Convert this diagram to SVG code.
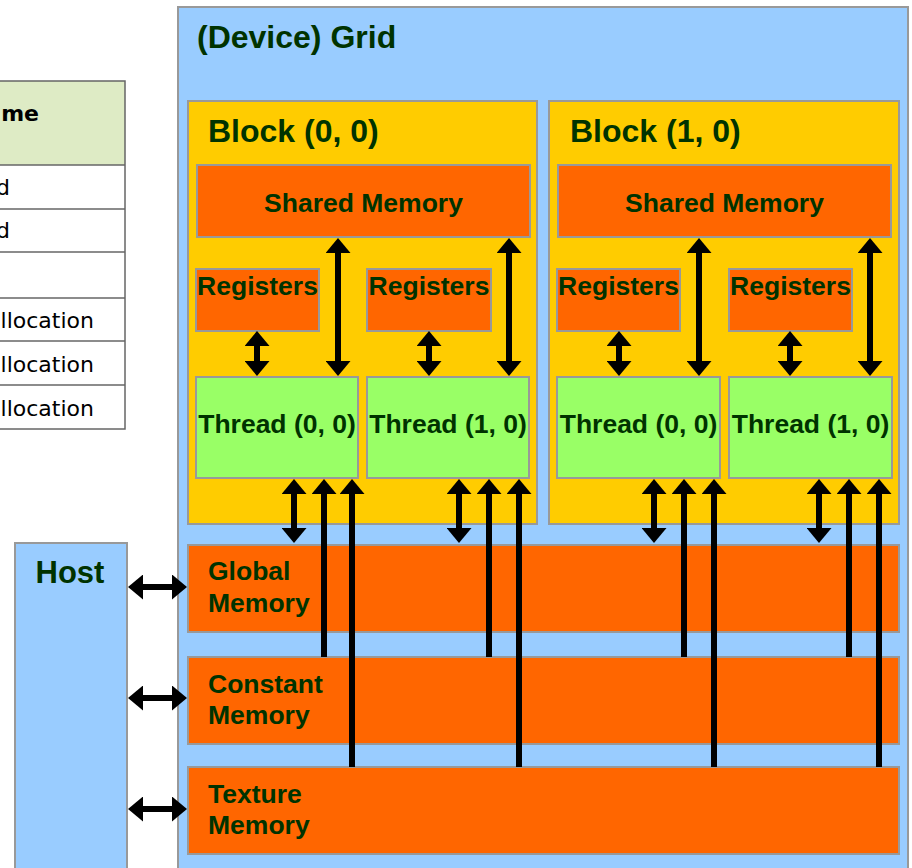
<svg xmlns="http://www.w3.org/2000/svg" width="912" height="868" viewBox="0 0 912 868">
<defs>
<marker id="ah" viewBox="0 0 15 25" refX="2" refY="12.5" markerWidth="15" markerHeight="25" markerUnits="userSpaceOnUse" orient="auto-start-reverse">
<path d="M0,0 L15,12.5 L0,25 Z" fill="#000"/>
</marker>
<style>
.grid{fill:#99CCFF;stroke:#999;stroke-width:2}
.blk{fill:#FFCC00;stroke:#999;stroke-width:2}
.mem{fill:#FF6600;stroke:#999;stroke-width:2}
.thr{fill:#99FF66;stroke:#999;stroke-width:2}
.t{font-family:"Liberation Sans",Arial,sans-serif;font-weight:bold;fill:#003300}
.big{font-size:31px}
.mid{font-size:26.5px}
.c{text-anchor:middle}
.tb{font-family:"DejaVu Sans",Verdana,sans-serif;font-size:22px;fill:#000}
.tl{stroke:#666;stroke-width:1.5;fill:none}
.ar{stroke:#000;stroke-width:6;fill:none}
.d{marker-start:url(#ah);marker-end:url(#ah)}
.u{marker-end:url(#ah)}
</style>
</defs>
<rect width="912" height="868" fill="#fff"/>

<g id="table">
<rect x="-5" y="81" width="130" height="84" fill="#DEEBC5"/>
<rect x="-5" y="81" width="130" height="348" class="tl"/>
<line x1="-5" y1="165" x2="125" y2="165" class="tl"/>
<line x1="-5" y1="209" x2="125" y2="209" class="tl"/>
<line x1="-5" y1="252" x2="125" y2="252" class="tl"/>
<line x1="-5" y1="298" x2="125" y2="298" class="tl"/>
<line x1="-5" y1="341" x2="125" y2="341" class="tl"/>
<line x1="-5" y1="385" x2="125" y2="385" class="tl"/>
<text x="39" y="121" class="tb" text-anchor="end" font-weight="bold">me</text>
<text x="10" y="195" class="tb" text-anchor="end">d</text>
<text x="10" y="238" class="tb" text-anchor="end">d</text>
<text x="94" y="328" class="tb" text-anchor="end">llocation</text>
<text x="94" y="372" class="tb" text-anchor="end">llocation</text>
<text x="94" y="416" class="tb" text-anchor="end">llocation</text>
</g>

<g id="grid">
<rect x="178" y="7" width="730" height="880" class="grid"/>
<text x="197" y="48" class="t" font-size="32">(Device) Grid</text>
</g>

<g id="host">
<rect x="15" y="543" width="112" height="340" class="grid"/>
<text x="70" y="583" class="t big c">Host</text>
</g>

<g id="block00">
<rect x="188" y="101" width="349" height="423" class="blk"/>
<text x="208" y="142" class="t" font-size="32">Block (0, 0)</text>
</g>
<g id="block10">
<rect x="549" y="101" width="350" height="423" class="blk"/>
<text x="570" y="142" class="t" font-size="32">Block (1, 0)</text>
</g>

<g id="shared0">
<rect x="197" y="165" width="333" height="72" class="mem"/>
<text x="363.5" y="212" class="t mid c">Shared Memory</text>
</g>
<g id="shared1">
<rect x="558" y="165" width="333" height="72" class="mem"/>
<text x="724.5" y="212" class="t mid c">Shared Memory</text>
</g>

<g id="reg00">
<rect x="196" y="269" width="123" height="62" class="mem"/>
<text x="257.5" y="295" class="t mid c">Registers</text>
</g>
<g id="reg01">
<rect x="367" y="269" width="124" height="62" class="mem"/>
<text x="429" y="295" class="t mid c">Registers</text>
</g>
<g id="reg10">
<rect x="557" y="269" width="123" height="62" class="mem"/>
<text x="618.5" y="295" class="t mid c">Registers</text>
</g>
<g id="reg11">
<rect x="729" y="269" width="123" height="62" class="mem"/>
<text x="790.5" y="295" class="t mid c">Registers</text>
</g>

<g id="thread00">
<rect x="196" y="377" width="162" height="101" class="thr"/>
<text x="277" y="433" class="t mid c">Thread (0, 0)</text>
</g>
<g id="thread01">
<rect x="367" y="377" width="162" height="101" class="thr"/>
<text x="448" y="433" class="t mid c">Thread (1, 0)</text>
</g>
<g id="thread10">
<rect x="557" y="377" width="163" height="101" class="thr"/>
<text x="638.5" y="433" class="t mid c">Thread (0, 0)</text>
</g>
<g id="thread11">
<rect x="729" y="377" width="163" height="101" class="thr"/>
<text x="810.5" y="433" class="t mid c">Thread (1, 0)</text>
</g>

<g id="global">
<rect x="188" y="545" width="711" height="87" class="mem"/>
<text x="208" y="580" class="t mid">Global</text>
<text x="208" y="612" class="t mid">Memory</text>
</g>
<g id="constant">
<rect x="188" y="657" width="711" height="87" class="mem"/>
<text x="208" y="693" class="t mid">Constant</text>
<text x="208" y="724" class="t mid">Memory</text>
</g>
<g id="texture">
<rect x="188" y="767" width="711" height="87" class="mem"/>
<text x="208" y="803" class="t mid">Texture</text>
<text x="208" y="834" class="t mid">Memory</text>
</g>

<g id="connectors" class="ar">
<line x1="257" y1="344" x2="257" y2="363" class="d"/>
<line x1="429" y1="344" x2="429" y2="363" class="d"/>
<line x1="619" y1="344" x2="619" y2="363" class="d"/>
<line x1="790" y1="344" x2="790" y2="363" class="d"/>
<line x1="338" y1="251" x2="338" y2="363" class="d"/>
<line x1="509" y1="251" x2="509" y2="363" class="d"/>
<line x1="699" y1="251" x2="699" y2="363" class="d"/>
<line x1="870" y1="251" x2="870" y2="363" class="d"/>
<line x1="294" y1="492" x2="294" y2="530" class="d"/>
<line x1="459" y1="492" x2="459" y2="530" class="d"/>
<line x1="654" y1="492" x2="654" y2="530" class="d"/>
<line x1="819" y1="492" x2="819" y2="530" class="d"/>
<line x1="324" y1="657" x2="324" y2="492" class="u"/>
<line x1="489" y1="657" x2="489" y2="492" class="u"/>
<line x1="684" y1="657" x2="684" y2="492" class="u"/>
<line x1="849" y1="657" x2="849" y2="492" class="u"/>
<line x1="352" y1="767" x2="352" y2="492" class="u"/>
<line x1="519" y1="767" x2="519" y2="492" class="u"/>
<line x1="714" y1="767" x2="714" y2="492" class="u"/>
<line x1="879" y1="767" x2="879" y2="492" class="u"/>
<line x1="141" y1="587" x2="174" y2="587" class="d"/>
<line x1="141" y1="698" x2="174" y2="698" class="d"/>
<line x1="141" y1="809" x2="174" y2="809" class="d"/>
</g>
</svg>
